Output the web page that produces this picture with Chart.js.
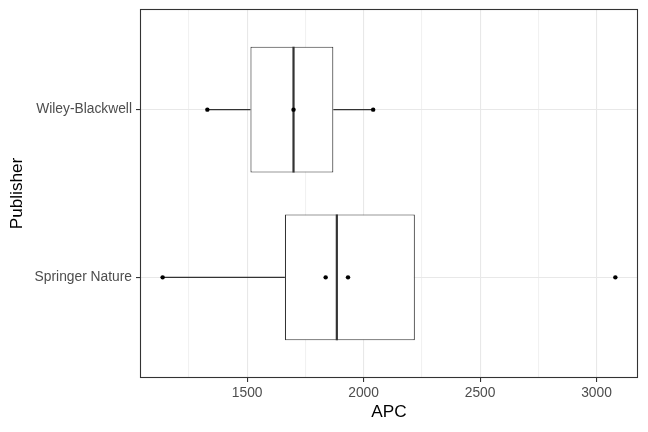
<!DOCTYPE html>
<html lang="en">
<head>
    <meta charset="UTF-8">
    <title>APC by Publisher</title>
    <script src="https://cdn.jsdelivr.net/npm/chart.js"></script>
    <style>
        html, body {
            margin: 0;
            padding: 0;
            background: #ffffff;
        }
        #wrap {
            width: 648px;
            height: 432px;
        }
    </style>
</head>
<body>
    <div id="wrap"><canvas id="apcChart" width="648" height="432"></canvas></div>

    <script>
        // Publishers in axis order (bottom to top)
        const publishers = ['Springer Nature', 'Wiley-Blackwell'];

        // APC values, one array per publisher
        const springerAPC = [1137, 1837, 1933, 3081];
        const wileyAPC = [1329, 1699, 2041];
        const apcByPublisher = [springerAPC, wileyAPC];

        // x axis ticks
        const xMajorTicks = [1500, 2000, 2500, 3000];
        const xMinorTicks = [1250, 1750, 2250, 2750];

        // quantile like R's default (type 7)
        function quantile(sorted, p) {
            const h = (sorted.length - 1) * p;
            const lo = Math.floor(h);
            const hi = Math.ceil(h);
            return sorted[lo] + (h - lo) * (sorted[hi] - sorted[lo]);
        }

        function boxStats(values) {
            const s = values.slice().sort((a, b) => a - b);
            const q1 = quantile(s, 0.25);
            const med = quantile(s, 0.5);
            const q3 = quantile(s, 0.75);
            const iqr = q3 - q1;
            const inside = s.filter(v => v >= q1 - 1.5 * iqr && v <= q3 + 1.5 * iqr);
            return {
                q1: q1, med: med, q3: q3,
                lo: Math.min(inside[0], q1),
                hi: Math.max(inside[inside.length - 1], q3)
            };
        }

        const stats = apcByPublisher.map(boxStats);
        const halfBox = 0.375;

        const allValues = apcByPublisher.flat();
        const dataMin = Math.min(...allValues);
        const dataMax = Math.max(...allValues);
        const pad = (dataMax - dataMin) * 0.05;

        const ink = '#333333';
        const isMajor = c => !!(c && c.tick && xMajorTicks.includes(c.tick.value));
        const datasets = [];

        // points on top
        datasets.push({
            type: 'scatter',
            data: apcByPublisher.flatMap((vals, i) => vals.map(v => ({ x: v, y: i + 1 }))),
            backgroundColor: '#000000',
            borderColor: '#000000',
            pointRadius: 2.2,
            pointBorderWidth: 0,
            order: 0
        });

        // medians
        stats.forEach((s, i) => {
            datasets.push({
                type: 'line',
                data: [{ x: s.med, y: i + 1 - halfBox }, { x: s.med, y: i + 1 + halfBox }],
                borderColor: ink,
                borderWidth: 2.2,
                pointRadius: 0,
                order: 1
            });
        });

        // whiskers
        stats.forEach((s, i) => {
            [[s.lo, s.q1], [s.q3, s.hi]].forEach(seg => {
                if (seg[0] === seg[1]) return;
                datasets.push({
                    type: 'line',
                    data: [{ x: seg[0], y: i + 1 }, { x: seg[1], y: i + 1 }],
                    borderColor: ink,
                    borderWidth: 1.1,
                    pointRadius: 0,
                    order: 2
                });
            });
        });

        // boxes as floating bars
        datasets.push({
            type: 'bar',
            indexAxis: 'y',
            data: stats.map((s, i) => ({ x: [s.q1, s.q3], y: i + 1 })),
            backgroundColor: '#ffffff',
            borderColor: ink,
            borderWidth: 1.1,
            borderSkipped: false,
            barPercentage: 0.75,
            categoryPercentage: 1,
            order: 3
        });

        const panelBorder = {
            id: 'panelBorder',
            afterDraw(chart) {
                const a = chart.chartArea;
                const ctx = chart.ctx;
                ctx.save();
                ctx.strokeStyle = ink;
                ctx.lineWidth = 1.1;
                ctx.strokeRect(a.left + 0.5, a.top + 0.5, a.right - a.left - 1, a.bottom - a.top - 1);
                ctx.restore();
            }
        };

        const font = 'Liberation Sans, Arial, Helvetica, sans-serif';

        new Chart(document.getElementById('apcChart'), {
            type: 'bar',
            data: { datasets: datasets },
            plugins: [panelBorder],
            options: {
                responsive: false,
                animation: false,
                events: [],
                layout: { padding: { top: 9, right: 10, left: 0, bottom: 0 } },
                plugins: {
                    legend: { display: false },
                    tooltip: { enabled: false }
                },
                scales: {
                    x: {
                        type: 'linear',
                        position: 'bottom',
                        offset: false,
                        min: dataMin - pad,
                        max: dataMax + pad,
                        afterBuildTicks: scale => {
                            scale.ticks = xMinorTicks.concat(xMajorTicks)
                                .sort((a, b) => a - b)
                                .map(v => ({ value: v }));
                        },
                        afterFit: scale => {
                            scale.height = 54;
                            scale.paddingLeft = 0;
                            scale.paddingRight = 0;
                        },
                        border: { display: false },
                        grid: {
                            offset: false,
                            color: c => isMajor(c) ? '#E8E8E8' : '#F1F1F1',
                            lineWidth: 1.1,
                            tickColor: c => isMajor(c) ? ink : 'rgba(0,0,0,0)',
                            tickLength: 4
                        },
                        ticks: {
                            autoSkip: false,
                            maxRotation: 0,
                            padding: 3,
                            color: '#4D4D4D',
                            font: { family: font, size: 13.8 },
                            callback: v => xMajorTicks.includes(v) ? String(v) : ''
                        },
                        title: {
                            display: true,
                            text: 'APC',
                            color: '#000000',
                            font: { family: font, size: 17.2 },
                            padding: { top: 0, bottom: 9 }
                        }
                    },
                    y: {
                        type: 'linear',
                        position: 'left',
                        offset: false,
                        min: 0.4,
                        max: 2.6,
                        afterBuildTicks: scale => {
                            scale.ticks = publishers.map((p, i) => ({ value: i + 1 }));
                        },
                        afterFit: scale => {
                            scale.width = 140;
                            scale.paddingTop = 0;
                            scale.paddingBottom = 0;
                        },
                        border: { display: false },
                        grid: {
                            offset: false,
                            color: '#E8E8E8',
                            lineWidth: 1.1,
                            tickColor: ink,
                            tickLength: 4
                        },
                        ticks: {
                            autoSkip: false,
                            padding: 4,
                            color: '#4D4D4D',
                            font: { family: font, size: 13.8 },
                            callback: v => publishers[v - 1] || ''
                        },
                        title: {
                            display: true,
                            text: 'Publisher',
                            color: '#000000',
                            font: { family: font, size: 17.2 },
                            padding: { top: 7, bottom: 0 }
                        }
                    }
                }
            }
        });
    </script>
</body>
</html>
